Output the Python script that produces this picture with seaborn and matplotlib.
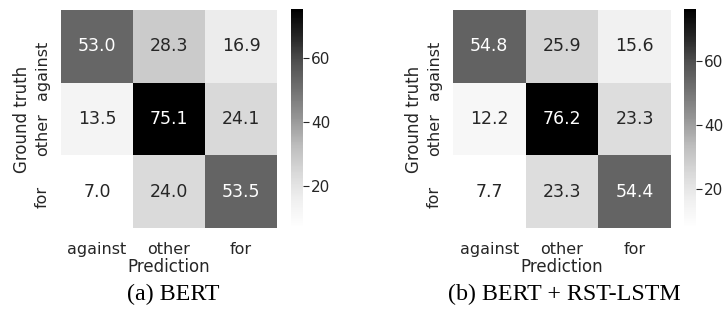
import numpy as np
import pandas as pd
import matplotlib
matplotlib.use("Agg")
import matplotlib.pyplot as plt
import matplotlib.transforms as mtransforms
import seaborn as sns

# class names (rows = ground truth, columns = prediction)
labels = ["against", "other", "for"]

# confusion matrices in percent
bert_values = [[53.0, 28.3, 16.9],
               [13.5, 75.1, 24.1],
               [7.0, 24.0, 53.5]]
rst_values = [[54.8, 25.9, 15.6],
              [12.2, 76.2, 23.3],
              [7.7, 23.3, 54.4]]

captions = ["(a) BERT", "(b) BERT + RST-LSTM"]
cbar_ticks = [20, 40, 60]

sns.set_style("white")
plt.rcParams["font.family"] = ["DejaVu Sans"]
plt.rcParams["text.color"] = "#262626"
plt.rcParams["axes.labelcolor"] = "#262626"
plt.rcParams["xtick.color"] = "#262626"
plt.rcParams["ytick.color"] = "#262626"

W, H = 727, 324
fig = plt.figure(figsize=(W / 100, H / 100), dpi=100)


def px_box(x0, y0, x1, y1):
    return [x0 / W, 1 - y1 / H, (x1 - x0) / W, (y1 - y0) / H]


# Function to draw one confusion matrix with its colorbar and caption
def draw_matrix(values, heat_box, cbar_box, caption, caption_x):
    df = pd.DataFrame(values, index=labels, columns=labels)
    ax = fig.add_axes(px_box(*heat_box))
    cax = fig.add_axes(px_box(*cbar_box))
    sns.heatmap(df, ax=ax, cbar_ax=cax, cmap="Greys", annot=True, fmt=".1f",
                annot_kws={"fontsize": 12.5}, square=False)
    ax.tick_params(axis="x", length=0, labelsize=11.5, pad=10)
    ax.tick_params(axis="y", length=0, labelsize=11.5, pad=8)
    ax.set_xticklabels(labels, rotation=0)
    ylabels = ax.set_yticklabels(labels, rotation=90, va="top")
    # labels sit a little above the cell centres, like the original
    shift = mtransforms.ScaledTranslation(0, 6 / 100, fig.dpi_scale_trans)
    for lab in ylabels:
        lab.set_transform(lab.get_transform() + shift)
    ax.set_xlabel("Prediction", fontsize=12, labelpad=1)
    ax.set_ylabel("Ground truth", fontsize=12, labelpad=3)
    cax.set_yticks(cbar_ticks)
    cax.tick_params(length=4, width=0.8, labelsize=11, pad=2, color="#262626")
    fig.text(caption_x / W, 1 - 294 / H, caption, ha="center", va="center",
             fontsize=17.3, family="Liberation Serif", color="black")


draw_matrix(bert_values, (61, 10, 277, 228), (291, 9, 303, 228), captions[0], 173)
draw_matrix(rst_values, (453, 10, 671, 228), (684, 9, 696, 228), captions[1], 564)

fig.savefig("out.png", dpi=100)
